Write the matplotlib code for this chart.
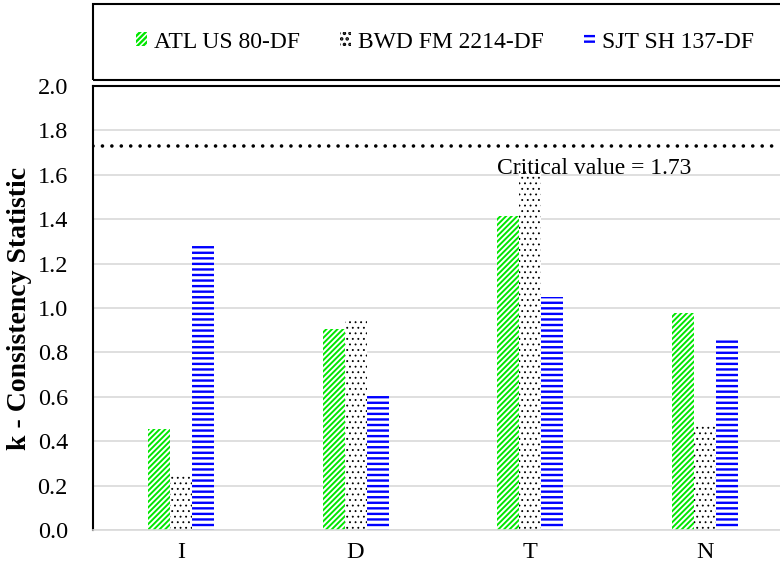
import matplotlib
matplotlib.use("Agg")
import matplotlib.pyplot as plt
from matplotlib.patches import Rectangle
import numpy as np

plt.rcParams['font.family'] = ['Liberation Serif', 'DejaVu Serif']

categories = ['I', 'D', 'T', 'N']
series_names = ['ATL US 80-DF', 'BWD FM 2214-DF', 'SJT SH 137-DF']
atl_values = [0.455, 0.905, 1.414, 0.977]
bwd_values = [0.243, 0.955, 1.62, 0.477]
sjt_values = [1.29, 0.617, 1.05, 0.86]
critical_value = 1.73
y_ticks = [0.0, 0.2, 0.4, 0.6, 0.8, 1.0, 1.2, 1.4, 1.6, 1.8, 2.0]

fig = plt.figure(figsize=(7.8, 5.73), dpi=100)
ax = fig.add_axes([93 / 780, 1 - 530 / 573, 1 - 93 / 780, (530 - 86) / 573])

x = np.arange(len(categories))
w = 0.126

styles = [
    dict(hatch='//////', edgecolor='#00e600', hlw=1.4),
    dict(hatch='...', edgecolor='black', hlw=0.6),
    dict(hatch='---', edgecolor='#0000ff', hlw=1.7),
]
handles = []
for i, (vals, st) in enumerate(zip([atl_values, bwd_values, sjt_values], styles)):
    plt.rcParams['hatch.linewidth'] = st['hlw']
    b = ax.bar(x + (i - 1) * w, vals, width=w, facecolor='white',
               edgecolor=st['edgecolor'], hatch=st['hatch'], linewidth=0,
               label=series_names[i], zorder=2)
    handles.append(b)

ax.axhline(critical_value, color='black', linewidth=2.6,
           linestyle=(0, (0.01, 2.6)), dash_capstyle='round', zorder=3)
ax.text(2.0 - 0.19, critical_value - 0.055, 'Critical value = 1.73',
        fontsize=17, va='top', ha='left', zorder=4)

ax.set_xlim(-0.503, 3.43)
ax.set_ylim(0, 2.0)
ax.set_yticks(y_ticks)
ax.set_yticklabels([f'{v:.1f}' for v in y_ticks], fontsize=17.5)
ax.set_xticks(x)
ax.set_xticklabels(categories, fontsize=17.5)
ax.tick_params(length=0)
ax.tick_params(axis='x', pad=9)
ax.tick_params(axis='y', pad=18)
ax.grid(axis='y', color='#d9d9d9', linewidth=1.2, zorder=0)
ax.set_axisbelow(True)
ax.spines['right'].set_visible(False)
ax.spines['left'].set_linewidth(1.5)
ax.spines['top'].set_linewidth(1.5)
ax.spines['bottom'].set_color('#d9d9d9')
ax.spines['bottom'].set_linewidth(1.2)
ax.set_ylabel('k - Consistency Statistic', fontsize=20, fontweight='bold',
              labelpad=4)

# legend box across the top
fig.patches.append(Rectangle((93 / 780, 1 - 80 / 573), 1, (80 - 4) / 573,
                             transform=fig.transFigure, fill=False,
                             edgecolor='black', linewidth=1.5))
fig.legend(handles=handles, loc='center', bbox_to_anchor=(0.5705, 1 - 42 / 573),
           ncol=3, frameon=False, fontsize=17, handlelength=0.45,
           handleheight=0.5, handletextpad=0.3, columnspacing=1.7)

fig.savefig('out.png', dpi=100)
